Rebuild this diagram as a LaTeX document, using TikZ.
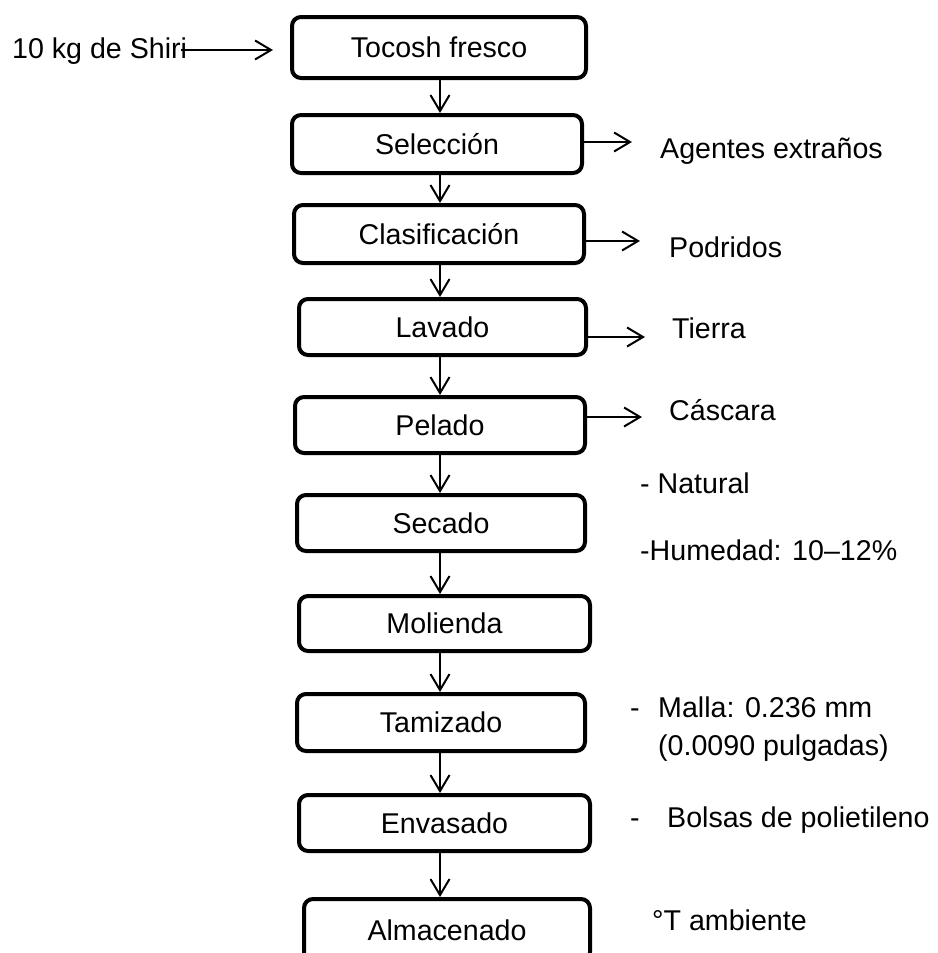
\documentclass[tikz,border=0pt]{standalone}
\usepackage{fontspec}
\setmainfont{Liberation Sans}
\usetikzlibrary{arrows.meta}

\begin{document}
\begin{tikzpicture}[x=1pt,y=-1pt,
  txt/.style={font=\fontsize{28.6}{34}\selectfont, text height=20.5pt, text depth=0pt},
  stage/.style={txt, draw, line width=4pt, rounded corners=9pt, inner sep=0pt},
  note/.style={txt, anchor=west, inner sep=0pt},
  flow/.style={line width=2pt, -{Straight Barb[length=16pt,width=19pt]}},
]
\useasboundingbox (0,0) rectangle (937,953);
\clip (0,0) rectangle (937,953);

% process stages
\node[stage, minimum width=294pt, minimum height=61pt] (toc) at (439,47.5)  {Tocosh fresco};
\node[stage, minimum width=290pt, minimum height=58pt] (sel) at (437,144)   {Selección};
\node[stage, minimum width=290pt, minimum height=58pt] (cla) at (439,234)   {Clasificación};
\node[stage, minimum width=287pt, minimum height=56pt] (lav) at (442.5,327) {Lavado};
\node[stage, minimum width=290pt, minimum height=56pt] (pel) at (440,425)   {Pelado};
\node[stage, minimum width=288pt, minimum height=56pt] (sec) at (441,523)   {Secado};
\node[stage, minimum width=291pt, minimum height=55pt] (mol) at (444.5,623.5) {Molienda};
\node[stage, minimum width=288pt, minimum height=57pt] (tam) at (441,722.5) {Tamizado};
\node[stage, minimum width=291pt, minimum height=56pt] (env) at (444.5,823) {Envasado};
\node[stage, minimum width=286pt, minimum height=62pt] (alm) at (447,930)   {Almacenado};

% main flow line
\coordinate (axis) at (440,0);
\foreach \a/\b in {toc/sel, sel/cla, cla/lav, lav/pel, pel/sec, sec/mol, mol/tam, tam/env, env/alm}
  \draw[flow] (\a.south -| axis) -- (\b.north -| axis);

% raw material input
\node[note] (in) at (12,48) {10 kg de Shiri};
\coordinate (inT) at (273,50);
\draw[flow, shorten <=-6pt] (in.east |- inT) -- (inT);

% outputs and conditions
\node[note] (l1) at (660,148) {Agentes extraños};
\node[note] (l2) at (669,247) {Podridos};
\node[note] (l3) at (672,328) {Tierra};
\node[note] (l4) at (669,410) {Cáscara};
\node[note] (l5) at (640,483) {- Natural};
\node[note] (l6) at (640,550) {-Humedad: 10–12\%};
\node[note] (d1) at (630,707) {-};
\node[note] (l7) at (658,707) {Malla: 0.236 mm};
\node[note] (l8) at (658,745) {(0.0090 pulgadas)};
\node[note] (d2) at (630,817) {-};
\node[note] (l9) at (667,817) {Bolsas de polietileno};
\node[note] (l10) at (652,920) {°T ambiente};

\coordinate (selT) at (632,142);
\coordinate (claT) at (640,241);
\coordinate (lavT) at (645,337);
\coordinate (pelT) at (642,417);
\draw[flow] (sel.east |- selT) -- (selT);
\draw[flow] (cla.east |- claT) -- (claT);
\draw[flow] (lav.east |- lavT) -- (lavT);
\draw[flow] (pel.east |- pelT) -- (pelT);
\end{tikzpicture}
\end{document}
